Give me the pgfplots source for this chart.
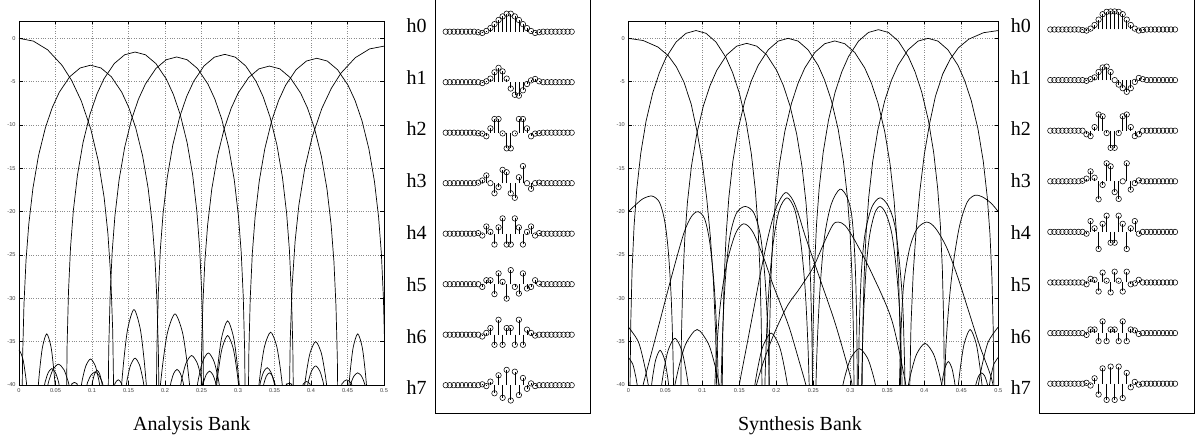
\documentclass[border=0pt]{standalone}
\usepackage{fontspec}
\setmainfont{Liberation Serif}
\newfontfamily\ticksans{Liberation Sans}
\usepackage{pgfplots}
\usepackage{pgfplotstable}
\pgfplotsset{compat=1.18}
\pgfplotstableread{
n v
0 0
1 0
2 0
3 0
4 0
5 0
6 0
7 0
24 0
25 0
26 0
27 0
28 0
29 0
30 0
31 0
}\zerotab
\pgfplotsset{
  resp/.style={scale only axis, height=364bp, xmin=0, xmax=0.5, ymin=-40, ymax=2,
    xtick={0,0.05,0.1,0.15,0.2,0.25,0.3,0.35,0.4,0.45,0.5},
    xticklabels={0,0.05,0.1,0.15,0.2,0.25,0.3,0.35,0.4,0.45,0.5},
    ytick={-40,-35,-30,-25,-20,-15,-10,-5,0},
    yticklabels={-40,-35,-30,-25,-20,-15,-10,-5,0},
    grid=major, grid style={dotted, black!45, line width=0.45pt},
    tick align=inside, major tick length=3.5bp,
    tick style={black, line width=0.5pt},
    axis line style={black, line width=1pt},
    ticklabel style={font=\ticksans\fontsize{5.6bp}{6bp}\selectfont, text=black!75},
    anchor=south west, clip=true},
  stemax/.style={hide axis, scale only axis, height=36bp, xmin=0, xmax=31, ymin=-1, ymax=1, anchor=west, clip=false},
  stemplot/.style={ycomb, black, line width=0.55pt, mark=o, mark size=2.75pt, mark options={solid}},
  stemzero/.style={only marks, black, line width=0.55pt, mark=o, mark size=2.75pt},
  lobe/.style={black, line width=0.7pt, mark=none},
  slobe/.style={lobe, smooth},
}
\newcommand{\stemrow}[4]{\begin{axis}[stemax, at={(#1bp,#2bp)}, width=#3bp]
\addplot[stemplot] coordinates {#4};
\addplot[stemzero] table {\zerotab};
\end{axis}}
\begin{document}
\begin{tikzpicture}
\useasboundingbox (0,0) rectangle (1196bp,439bp);
% ---------------- Analysis ----------------
\begin{axis}[resp, at={(19bp,54bp)}, width=365bp]
\addplot[lobe] coordinates {(0,0) (0.0197,-0.32) (0.0393,-1.33) (0.0590,-3.12) (0.0721,-4.86) (0.0852,-7.20) (0.0983,-10.45) (0.1087,-14.19) (0.1166,-18.34) (0.1218,-22.54) (0.1258,-27.63) (0.1284,-33.81) (0.1301,-43)};
\addplot[lobe] coordinates {(0.0037,-46.1) (0.0049,-36.91) (0.0068,-30.73) (0.0096,-25.64) (0.0134,-21.44) (0.0191,-17.29) (0.0267,-13.55) (0.0362,-10.30) (0.0457,-7.96) (0.0552,-6.22) (0.0695,-4.43) (0.0837,-3.42) (0.098,-3.1) (0.1123,-3.42) (0.1265,-4.43) (0.1408,-6.22) (0.1503,-7.96) (0.1598,-10.30) (0.1693,-13.55) (0.1769,-17.29) (0.1826,-21.44) (0.1864,-25.64) (0.1892,-30.73) (0.1911,-36.91) (0.1923,-46.1)};
\addplot[lobe] coordinates {(0.0647,-44.58) (0.0659,-35.39) (0.0678,-29.21) (0.0706,-24.12) (0.0744,-19.92) (0.0801,-15.77) (0.0877,-12.03) (0.0972,-8.78) (0.1067,-6.44) (0.1162,-4.70) (0.1305,-2.91) (0.1447,-1.90) (0.159,-1.58) (0.1733,-1.90) (0.1875,-2.91) (0.2018,-4.70) (0.2113,-6.44) (0.2208,-8.78) (0.2303,-12.03) (0.2379,-15.77) (0.2436,-19.92) (0.2474,-24.12) (0.2502,-29.21) (0.2521,-35.39) (0.2533,-44.58)};
\addplot[lobe] coordinates {(0.1217,-45.15) (0.1229,-35.96) (0.1248,-29.78) (0.1276,-24.69) (0.1314,-20.49) (0.1371,-16.34) (0.1447,-12.60) (0.1542,-9.35) (0.1637,-7.01) (0.1732,-5.27) (0.1875,-3.48) (0.2017,-2.47) (0.216,-2.15) (0.2303,-2.47) (0.2445,-3.48) (0.2588,-5.27) (0.2683,-7.01) (0.2778,-9.35) (0.2873,-12.60) (0.2949,-16.34) (0.3006,-20.49) (0.3044,-24.69) (0.3072,-29.78) (0.3091,-35.96) (0.3103,-45.15)};
\addplot[lobe] coordinates {(0.1877,-44.85) (0.1889,-35.66) (0.1908,-29.48) (0.1936,-24.39) (0.1974,-20.19) (0.2031,-16.04) (0.2107,-12.30) (0.2202,-9.05) (0.2297,-6.71) (0.2392,-4.97) (0.2535,-3.18) (0.2677,-2.17) (0.282,-1.85) (0.2963,-2.17) (0.3105,-3.18) (0.3248,-4.97) (0.3343,-6.71) (0.3438,-9.05) (0.3533,-12.30) (0.3609,-16.04) (0.3666,-20.19) (0.3704,-24.39) (0.3732,-29.48) (0.3751,-35.66) (0.3763,-44.85)};
\addplot[lobe] coordinates {(0.2487,-46.2) (0.2499,-37.01) (0.2518,-30.83) (0.2546,-25.74) (0.2584,-21.54) (0.2641,-17.39) (0.2717,-13.65) (0.2812,-10.40) (0.2907,-8.06) (0.3002,-6.32) (0.3145,-4.53) (0.3287,-3.52) (0.343,-3.2) (0.3573,-3.52) (0.3715,-4.53) (0.3858,-6.32) (0.3953,-8.06) (0.4048,-10.40) (0.4143,-13.65) (0.4219,-17.39) (0.4276,-21.54) (0.4314,-25.74) (0.4342,-30.83) (0.4361,-37.01) (0.4373,-46.2)};
\addplot[lobe] coordinates {(0.3137,-45.3) (0.3149,-36.11) (0.3168,-29.93) (0.3196,-24.84) (0.3234,-20.64) (0.3291,-16.49) (0.3367,-12.75) (0.3462,-9.50) (0.3557,-7.16) (0.3652,-5.42) (0.3795,-3.63) (0.3937,-2.62) (0.408,-2.3) (0.4223,-2.62) (0.4365,-3.63) (0.4508,-5.42) (0.4603,-7.16) (0.4698,-9.50) (0.4793,-12.75) (0.4869,-16.49) (0.4926,-20.64) (0.4964,-24.84) (0.4992,-29.93) (0.5011,-36.11) (0.5023,-45.3)};
\addplot[lobe] coordinates {(0.3699,-43.9) (0.3716,-34.71) (0.3742,-28.53) (0.3782,-23.44) (0.3834,-19.24) (0.3913,-15.09) (0.4017,-11.35) (0.4148,-8.10) (0.4279,-5.76) (0.4410,-4.02) (0.4607,-2.23) (0.4803,-1.22) (0.5,-0.9)};
% side lobes
\addplot[slobe] coordinates {(-0.0116,-41.5) (-0.0105,-40) (-0.0084,-38.56) (-0.0053,-37.0) (0,-36.0) (0.0053,-37.0) (0.0084,-38.56) (0.0105,-40) (0.0116,-41.5)};
\addplot[slobe] coordinates {(0.0254,-41.5) (0.0265,-40) (0.0288,-37.88) (0.0323,-35.58) (0.038,-34.1) (0.0438,-35.58) (0.0472,-37.88) (0.0495,-40) (0.0507,-41.5)};
\addplot[slobe] coordinates {(0.034,-41.5) (0.035,-40) (0.037,-39.32) (0.04,-38.58) (0.045,-38.1) (0.05,-38.58) (0.053,-39.32) (0.055,-40) (0.056,-41.5)};
\addplot[slobe] coordinates {(0.038,-41.5) (0.0395,-40) (0.0424,-39.14) (0.0467,-38.2) (0.054,-37.6) (0.0613,-38.2) (0.0656,-39.14) (0.0685,-40) (0.07,-41.5)};
\addplot[slobe] coordinates {(0.0716,-41.5) (0.072,-40) (0.0728,-39.89) (0.074,-39.78) (0.076,-39.7) (0.078,-39.78) (0.0792,-39.89) (0.08,-40) (0.0804,-41.5)};
\addplot[slobe] coordinates {(0.0843,-41.5) (0.0855,-40) (0.088,-38.92) (0.0918,-37.75) (0.098,-37.0) (0.1043,-37.75) (0.108,-38.92) (0.1105,-40) (0.1118,-41.5)};
\addplot[slobe] coordinates {(0.0919,-41.5) (0.093,-40) (0.0952,-39.46) (0.0985,-38.88) (0.104,-38.5) (0.1095,-38.88) (0.1128,-39.46) (0.115,-40) (0.1161,-41.5)};
\addplot[slobe] coordinates {(0.0993,-41.5) (0.1,-40) (0.1014,-39.39) (0.1035,-38.73) (0.107,-38.3) (0.1105,-38.73) (0.1126,-39.39) (0.114,-40) (0.1147,-41.5)};
\addplot[slobe] coordinates {(0.1305,-41.5) (0.131,-40) (0.132,-39.78) (0.1335,-39.55) (0.136,-39.4) (0.1385,-39.55) (0.14,-39.78) (0.141,-40) (0.1415,-41.5)};
\addplot[slobe] coordinates {(0.1388,-41.5) (0.1405,-40) (0.1439,-36.87) (0.149,-33.48) (0.1575,-31.3) (0.166,-33.48) (0.1711,-36.87) (0.1745,-40) (0.1762,-41.5)};
\addplot[slobe] coordinates {(0.1458,-41.5) (0.147,-40) (0.1494,-38.88) (0.153,-37.68) (0.159,-36.9) (0.165,-37.68) (0.1686,-38.88) (0.171,-40) (0.1722,-41.5)};
\addplot[slobe] coordinates {(0.1917,-41.5) (0.1937,-40) (0.1977,-37.05) (0.2037,-33.85) (0.2137,-31.8) (0.2237,-33.85) (0.2297,-37.05) (0.2337,-40) (0.2357,-41.5)};
\addplot[slobe] coordinates {(0.2066,-41.5) (0.2075,-40) (0.2093,-39.35) (0.212,-38.65) (0.2165,-38.2) (0.221,-38.65) (0.2237,-39.35) (0.2255,-40) (0.2264,-41.5)};
\addplot[slobe] coordinates {(0.22,-41.5) (0.2215,-40) (0.2245,-38.78) (0.229,-37.45) (0.2365,-36.6) (0.244,-37.45) (0.2485,-38.78) (0.2515,-40) (0.253,-41.5)};
\addplot[slobe] coordinates {(0.2429,-41.5) (0.2444,-40) (0.2474,-38.67) (0.2519,-37.23) (0.2594,-36.3) (0.2669,-37.23) (0.2714,-38.67) (0.2744,-40) (0.2759,-41.5)};
\addplot[slobe] coordinates {(0.2511,-41.5) (0.252,-40) (0.2538,-39.42) (0.2565,-38.8) (0.261,-38.4) (0.2655,-38.8) (0.2682,-39.42) (0.27,-40) (0.2709,-41.5)};
\addplot[slobe] coordinates {(0.2682,-41.5) (0.2698,-40) (0.273,-37.34) (0.2778,-34.45) (0.2858,-32.6) (0.2938,-34.45) (0.2986,-37.34) (0.3018,-40) (0.3034,-41.5)};
\addplot[slobe] coordinates {(0.2693,-41.5) (0.2708,-40) (0.2738,-37.95) (0.2783,-35.73) (0.2858,-34.3) (0.2933,-35.73) (0.2978,-37.95) (0.3008,-40) (0.3023,-41.5)};
\addplot[slobe] coordinates {(0.3271,-41.5) (0.3287,-40) (0.3319,-37.8) (0.3367,-35.43) (0.3447,-33.9) (0.3527,-35.43) (0.3575,-37.8) (0.3607,-40) (0.3623,-41.5)};
\addplot[slobe] coordinates {(0.329,-41.5) (0.33,-40) (0.332,-39.28) (0.335,-38.5) (0.34,-38.0) (0.345,-38.5) (0.348,-39.28) (0.35,-40) (0.351,-41.5)};
\addplot[slobe] coordinates {(0.3342,-41.5) (0.335,-40) (0.3366,-39.5) (0.339,-38.95) (0.343,-38.6) (0.347,-38.95) (0.3494,-39.5) (0.351,-40) (0.3518,-41.5)};
\addplot[slobe] coordinates {(0.3656,-41.5) (0.366,-40) (0.3668,-39.93) (0.368,-39.85) (0.37,-39.8) (0.372,-39.85) (0.3732,-39.93) (0.374,-40) (0.3744,-41.5)};
\addplot[slobe] coordinates {(0.3885,-41.5) (0.389,-40) (0.39,-39.86) (0.3915,-39.7) (0.394,-39.6) (0.3965,-39.7) (0.398,-39.86) (0.399,-40) (0.3995,-41.5)};
\addplot[slobe] coordinates {(0.3899,-41.5) (0.3914,-40) (0.3944,-38.2) (0.3989,-36.25) (0.4064,-35.0) (0.4139,-36.25) (0.4184,-38.2) (0.4214,-40) (0.4229,-41.5)};
\addplot[slobe] coordinates {(0.3943,-41.5) (0.3954,-40) (0.3976,-39.21) (0.4009,-38.35) (0.4064,-37.8) (0.4119,-38.35) (0.4152,-39.21) (0.4174,-40) (0.4185,-41.5)};
\addplot[slobe] coordinates {(0.4413,-41.5) (0.442,-40) (0.4434,-39.78) (0.4455,-39.55) (0.449,-39.4) (0.4525,-39.55) (0.4546,-39.78) (0.456,-40) (0.4567,-41.5)};
\addplot[slobe] coordinates {(0.4508,-41.5) (0.452,-40) (0.4544,-37.88) (0.458,-35.58) (0.464,-34.1) (0.47,-35.58) (0.4736,-37.88) (0.476,-40) (0.4772,-41.5)};
\addplot[slobe] coordinates {(0.453,-41.5) (0.454,-40) (0.456,-39.5) (0.459,-38.95) (0.464,-38.6) (0.469,-38.95) (0.472,-39.5) (0.474,-40) (0.475,-41.5)};
\end{axis}
% ---------------- Synthesis ----------------
\begin{axis}[resp, at={(628.3bp,54bp)}, width=370bp]
\addplot[lobe] coordinates {(0,0) (0.02,-0.25) (0.04,-1.0) (0.054,-2.0) (0.065,-3.3) (0.075,-5.0) (0.085,-7.6) (0.093,-10.8) (0.1,-14.3) (0.106,-18.5) (0.111,-23) (0.115,-28) (0.118,-34) (0.1205,-45)};
\addplot[lobe] coordinates {(0.0021,-42.1) (0.0033,-32.91) (0.0051,-26.73) (0.0078,-21.64) (0.0114,-17.44) (0.0168,-13.29) (0.024,-9.55) (0.033,-6.30) (0.042,-3.96) (0.051,-2.22) (0.0645,-0.43) (0.078,0.58) (0.0915,0.9) (0.105,0.58) (0.1185,-0.43) (0.132,-2.22) (0.141,-3.96) (0.15,-6.30) (0.159,-9.55) (0.1662,-13.29) (0.1716,-17.44) (0.1752,-21.64) (0.1779,-26.73) (0.1797,-32.91) (0.1809,-42.1)};
\addplot[lobe] coordinates {(0.0706,-43.58) (0.0718,-34.39) (0.0736,-28.21) (0.0763,-23.12) (0.0799,-18.92) (0.0853,-14.77) (0.0925,-11.03) (0.1015,-7.78) (0.1105,-5.44) (0.1195,-3.70) (0.133,-1.91) (0.1465,-0.90) (0.160,-0.58) (0.1735,-0.90) (0.187,-1.91) (0.2005,-3.70) (0.2095,-5.44) (0.2185,-7.78) (0.2275,-11.03) (0.2347,-14.77) (0.2401,-18.92) (0.2437,-23.12) (0.2464,-28.21) (0.2482,-34.39) (0.2494,-43.58)};
\addplot[lobe] coordinates {(0.1266,-43) (0.1278,-33.81) (0.1296,-27.63) (0.1323,-22.54) (0.1359,-18.34) (0.1413,-14.19) (0.1485,-10.45) (0.1575,-7.20) (0.1665,-4.86) (0.1755,-3.12) (0.189,-1.33) (0.2025,-0.32) (0.216,0) (0.2295,-0.32) (0.243,-1.33) (0.2565,-3.12) (0.2655,-4.86) (0.2745,-7.20) (0.2835,-10.45) (0.2907,-14.19) (0.2961,-18.34) (0.2997,-22.54) (0.3024,-27.63) (0.3042,-33.81) (0.3054,-43)};
\addplot[lobe] coordinates {(0.1896,-43.3) (0.1908,-34.11) (0.1926,-27.93) (0.1953,-22.84) (0.1989,-18.64) (0.2043,-14.49) (0.2115,-10.75) (0.2205,-7.50) (0.2295,-5.16) (0.2385,-3.42) (0.252,-1.63) (0.2655,-0.62) (0.279,-0.3) (0.2925,-0.62) (0.306,-1.63) (0.3195,-3.42) (0.3285,-5.16) (0.3375,-7.50) (0.3465,-10.75) (0.3537,-14.49) (0.3591,-18.64) (0.3627,-22.84) (0.3654,-27.93) (0.3672,-34.11) (0.3684,-43.3)};
\addplot[lobe] coordinates {(0.2486,-42) (0.2498,-32.81) (0.2516,-26.63) (0.2543,-21.54) (0.2579,-17.34) (0.2633,-13.19) (0.2705,-9.45) (0.2795,-6.20) (0.2885,-3.86) (0.2975,-2.12) (0.311,-0.33) (0.3245,0.68) (0.338,1.0) (0.3515,0.68) (0.365,-0.33) (0.3785,-2.12) (0.3875,-3.86) (0.3965,-6.20) (0.4055,-9.45) (0.4127,-13.19) (0.4181,-17.34) (0.4217,-21.54) (0.4244,-26.63) (0.4262,-32.81) (0.4274,-42)};
\addplot[lobe] coordinates {(0.3156,-43) (0.3168,-33.81) (0.3186,-27.63) (0.3213,-22.54) (0.3249,-18.34) (0.3303,-14.19) (0.3375,-10.45) (0.3465,-7.20) (0.3555,-4.86) (0.3645,-3.12) (0.378,-1.33) (0.3915,-0.32) (0.405,0) (0.4185,-0.32) (0.432,-1.33) (0.4455,-3.12) (0.4545,-4.86) (0.4635,-7.20) (0.4725,-10.45) (0.4797,-14.19) (0.4851,-18.34) (0.4887,-22.54) (0.4914,-27.63) (0.4932,-33.81) (0.4944,-43)};
\addplot[lobe] coordinates {(0.3795,-44.1) (0.382,-33.1) (0.385,-27.1) (0.389,-22.1) (0.394,-17.6) (0.4,-13.4) (0.407,-9.9) (0.415,-6.7) (0.425,-4.1) (0.435,-2.4) (0.446,-1.1) (0.46,-0.1) (0.48,0.65) (0.5,0.9)};
% high side humps
\addplot[slobe] coordinates {(0,-20.0) (0.01,-19.2) (0.02,-18.5) (0.032,-18.2) (0.042,-18.9) (0.049,-21) (0.054,-24.5) (0.058,-30) (0.0605,-37) (0.062,-46)};
\addplot[slobe] coordinates {(0.016,-42) (0.02,-40) (0.04,-33.5) (0.06,-27) (0.075,-22.5) (0.085,-20.6) (0.094,-20.0) (0.103,-20.8) (0.11,-23.5) (0.116,-28.5) (0.12,-35) (0.123,-45)};
\addplot[slobe] coordinates {(0.124,-45) (0.127,-35) (0.131,-28) (0.137,-23) (0.146,-20.2) (0.158,-19.4) (0.17,-20.2) (0.179,-23) (0.185,-28) (0.189,-35) (0.192,-45)};
\addplot[slobe] coordinates {(0.115,-45) (0.118,-38) (0.124,-31) (0.133,-26) (0.145,-22.5) (0.156,-21.4) (0.168,-22.3) (0.182,-25.1) (0.195,-28.3) (0.205,-30.5) (0.218,-33.5) (0.23,-37) (0.24,-40) (0.245,-42)};
\addplot[slobe] coordinates {(0.148,-42) (0.15,-40) (0.16,-35.5) (0.17,-31) (0.18,-26.5) (0.19,-22.5) (0.2,-19.5) (0.212,-17.8) (0.222,-18.6) (0.23,-20.3) (0.239,-22.8) (0.26,-28) (0.28,-33) (0.3,-39) (0.304,-41)};
\addplot[slobe] coordinates {(0.183,-45) (0.186,-36) (0.19,-29) (0.196,-23.5) (0.204,-19.8) (0.2145,-18.4) (0.225,-19.8) (0.233,-23.5) (0.239,-29) (0.243,-36) (0.246,-45)};
\addplot[slobe] coordinates {(0.252,-45) (0.255,-36) (0.259,-29) (0.265,-23) (0.274,-19.2) (0.286,-17.4) (0.296,-18.4) (0.302,-20.5) (0.306,-25) (0.3085,-32) (0.31,-45)};
\addplot[slobe] coordinates {(0.17,-41) (0.18,-38) (0.195,-34.5) (0.214,-31) (0.232,-28.8) (0.25,-26.4) (0.265,-23.5) (0.2766,-21.5) (0.2838,-21.2) (0.293,-21.6) (0.306,-23.3) (0.329,-27.1) (0.356,-32.5) (0.374,-39.5) (0.378,-42)};
\addplot[slobe] coordinates {(0.310,-45) (0.312,-34) (0.315,-27) (0.32,-22.5) (0.329,-19.5) (0.3401,-18.4) (0.351,-19.3) (0.36,-21.5) (0.366,-25.5) (0.371,-31) (0.374,-40) (0.375,-46)};
\addplot[slobe] coordinates {(0.314,-45) (0.317,-34) (0.321,-27) (0.326,-22.8) (0.333,-20.2) (0.3401,-19.4) (0.348,-20.2) (0.356,-22.5) (0.362,-26.5) (0.367,-32) (0.37,-40) (0.371,-46)};
\addplot[slobe] coordinates {(0.365,-45) (0.368,-35) (0.372,-28.5) (0.38,-24.3) (0.39,-22) (0.4032,-21.2) (0.415,-21.9) (0.43,-24.1) (0.445,-27.5) (0.46,-31.5) (0.475,-35.5) (0.49,-39) (0.495,-41)};
\addplot[slobe] coordinates {(0.426,-45) (0.429,-36) (0.434,-30) (0.440,-25.5) (0.448,-21.5) (0.458,-18.9) (0.4685,-18.1) (0.4785,-18.3) (0.49,-19.0) (0.5,-20.0)};
% low side lobes
\addplot[slobe] coordinates {(0,-33.3) (0.0135,-35.0) (0.0216,-37.6) (0.027,-40) (0.0297,-41.5)};
\addplot[slobe] coordinates {(0,-36.8) (0.006,-37.6) (0.0096,-38.85) (0.012,-40) (0.0132,-41.5)};
\addplot[slobe] coordinates {(0.0304,-41.5) (0.0315,-40) (0.0338,-38.56) (0.0373,-37.0) (0.043,-36.0) (0.0488,-37.0) (0.0522,-38.56) (0.0545,-40) (0.0557,-41.5)};
\addplot[slobe] coordinates {(0.0432,-41.5) (0.045,-40) (0.0486,-38.06) (0.054,-35.95) (0.063,-34.6) (0.072,-35.95) (0.0774,-38.06) (0.081,-40) (0.0828,-41.5)};
\addplot[slobe] coordinates {(0.06,-41.5) (0.063,-40) (0.069,-37.7) (0.078,-35.2) (0.093,-33.6) (0.108,-35.2) (0.117,-37.7) (0.123,-40) (0.126,-41.5)};
\addplot[slobe] coordinates {(0.1688,-41.5) (0.171,-40) (0.1754,-37.84) (0.182,-35.5) (0.193,-34.0) (0.204,-35.5) (0.2106,-37.84) (0.215,-40) (0.2172,-41.5)};
\addplot[slobe] coordinates {(0.2878,-41.5) (0.29,-40) (0.2944,-38.49) (0.301,-36.85) (0.312,-35.8) (0.323,-36.85) (0.3296,-38.49) (0.334,-40) (0.3362,-41.5)};
\addplot[slobe] coordinates {(0.3763,-41.5) (0.3785,-40) (0.383,-38.27) (0.3898,-36.4) (0.401,-35.2) (0.4123,-36.4) (0.419,-38.27) (0.4235,-40) (0.4258,-41.5)};
\addplot[slobe] coordinates {(0.4226,-41.5) (0.4235,-40) (0.4253,-39.03) (0.428,-37.98) (0.4325,-37.3) (0.437,-37.98) (0.4397,-39.03) (0.4415,-40) (0.4424,-41.5)};
\addplot[slobe] coordinates {(0.4444,-41.5) (0.446,-40) (0.4492,-37.7) (0.454,-35.2) (0.462,-33.6) (0.47,-35.2) (0.4748,-37.7) (0.478,-40) (0.4796,-41.5)};
\addplot[slobe] coordinates {(0.4703,-41.5) (0.473,-40) (0.4784,-37.6) (0.4865,-35.0) (0.5,-33.3)};
\addplot[slobe] coordinates {(0.4868,-41.5) (0.488,-40) (0.4904,-38.85) (0.494,-37.6) (0.5,-36.8)};
\addplot[slobe] coordinates {(0.4687,-41.5) (0.4695,-40) (0.4711,-39.5) (0.4735,-38.95) (0.4775,-38.6) (0.4815,-38.95) (0.4839,-39.5) (0.4855,-40) (0.4863,-41.5)};
\end{axis}
% ---------------- stem boxes ----------------
\draw[line width=0.8bp] (435bp,445bp) -- (435bp,26bp) -- (590bp,26bp) -- (590bp,445bp);
\draw[line width=0.8bp] (1039bp,445bp) -- (1039bp,26bp) -- (1194bp,26bp) -- (1194bp,445bp);
\stemrow{445.7}{407.3}{126}{(8,-0.03) (9,-0.07) (10,0.04) (11,0.2) (12,0.42) (13,0.65) (14,0.85) (15,1.0) (16,1.0) (17,0.85) (18,0.65) (19,0.42) (20,0.2) (21,0.04) (22,-0.07) (23,-0.03)}
\stemrow{445.7}{356.8}{126}{(8,0) (9,-0.05) (10,0.05) (11,0.2) (12,0.55) (13,0.8) (14,0.6) (15,0.2) (16,-0.35) (17,-0.7) (18,-0.75) (19,-0.45) (20,-0.1) (21,0.1) (22,0.18) (23,0.05)}
\stemrow{445.7}{306.3}{126}{(8,-0.03) (9,-0.05) (10,-0.2) (11,0.24) (12,0.76) (13,0.76) (14,-0.04) (15,-0.87) (16,-0.87) (17,-0.04) (18,0.76) (19,0.76) (20,0.24) (21,-0.2) (22,-0.05) (23,-0.03)}
\stemrow{445.7}{255.8}{126}{(8,0.03) (9,0.15) (10,0.43) (11,0.0) (12,-0.56) (13,-0.22) (14,0.74) (15,0.61) (16,-0.56) (17,-0.81) (18,0.33) (19,0.95) (20,0.0) (21,-0.31) (22,0.0) (23,0.03)}
\stemrow{445.7}{205.3}{126}{(8,0.03) (9,-0.1) (10,0.4) (11,0.1) (12,-0.6) (13,0.35) (14,0.85) (15,-0.6) (16,-0.6) (17,0.85) (18,0.35) (19,-0.6) (20,0.1) (21,0.4) (22,-0.1) (23,0.03)}
\stemrow{445.7}{154.8}{126}{(8,0) (9,-0.15) (10,0.22) (11,0.22) (12,-0.55) (13,0.6) (14,0.13) (15,-0.8) (16,0.78) (17,-0.15) (18,-0.52) (19,0.6) (20,-0.24) (21,-0.15) (22,0.22) (23,0.03)}
\stemrow{445.7}{104.3}{126}{(8,0) (9,-0.1) (10,0.1) (11,0.37) (12,-0.56) (13,0.83) (14,-0.56) (15,0.37) (16,0.37) (17,-0.56) (18,0.83) (19,-0.56) (20,0.28) (21,0.1) (22,-0.05) (23,0)}
\stemrow{445.7}{53.8}{126}{(8,0) (9,0.05) (10,-0.05) (11,0.2) (12,-0.45) (13,0.55) (14,-0.7) (15,0.85) (16,-0.85) (17,0.75) (18,-0.55) (19,0.4) (20,-0.2) (21,0.1) (22,-0.05) (23,0)}
\stemrow{1050.3}{409.5}{124.7}{(8,-0.03) (9,-0.06) (10,0.05) (11,0.25) (12,0.55) (13,0.85) (14,0.98) (15,1.0) (16,1.0) (17,0.98) (18,0.85) (19,0.55) (20,0.25) (21,0.05) (22,-0.06) (23,-0.03)}
\stemrow{1050.3}{358.9}{124.7}{(8,0) (9,-0.04) (10,0.05) (11,0.15) (12,0.45) (13,0.7) (14,0.75) (15,0.45) (16,0.0) (17,-0.25) (18,-0.45) (19,-0.65) (20,-0.45) (21,-0.1) (22,0.12) (23,0.05)}
\stemrow{1050.3}{308.3}{124.7}{(8,0) (9,-0.2) (10,-0.3) (11,0.2) (12,0.9) (13,0.8) (14,-0.13) (15,-0.95) (16,-0.95) (17,-0.13) (18,0.8) (19,0.9) (20,0.2) (21,-0.3) (22,-0.2) (23,0)}
\stemrow{1050.3}{257.7}{124.7}{(8,0.03) (9,0.15) (10,0.55) (11,0.2) (12,-1.0) (13,-0.2) (14,1.0) (15,0.83) (16,-0.6) (17,-0.98) (18,0.0) (19,1.0) (20,-0.46) (21,-0.1) (22,0.05) (23,0)}
\stemrow{1050.3}{207.1}{124.7}{(8,0) (9,-0.1) (10,0.6) (11,0.2) (12,-0.95) (13,0.45) (14,0.9) (15,-0.6) (16,-0.6) (17,0.9) (18,0.45) (19,-0.95) (20,0.2) (21,0.6) (22,-0.1) (23,0)}
\stemrow{1050.3}{156.5}{124.7}{(8,0) (9,-0.1) (10,0.2) (11,0.15) (12,-0.5) (13,0.55) (14,0.1) (15,-0.55) (16,0.6) (17,0.1) (18,-0.5) (19,0.6) (20,-0.1) (21,-0.05) (22,0.15) (23,0)}
\stemrow{1050.3}{105.9}{124.7}{(8,0) (9,-0.1) (10,0.2) (11,0.2) (12,-0.45) (13,0.65) (14,-0.45) (15,0.2) (16,0.2) (17,-0.45) (18,0.65) (19,-0.45) (20,0.2) (21,0.15) (22,-0.05) (23,0)}
\stemrow{1050.3}{55.3}{124.7}{(8,0) (9,0.05) (10,-0.1) (11,0.3) (12,-0.6) (13,0.85) (14,-0.9) (15,0.95) (16,-0.9) (17,0.95) (18,-0.8) (19,0.6) (20,-0.2) (21,0.1) (22,-0.05) (23,0)}
% ---------------- labels ----------------
\foreach \k/\yy in {0/406.7bp,1/354.9bp,2/303.1bp,3/251.3bp,4/199.5bp,5/147.7bp,6/95.9bp,7/44.1bp}{
  \node[anchor=base, inner sep=0pt, font=\fontsize{20bp}{24bp}\selectfont] at (416.7bp,\yy) {h\k};
  \node[anchor=base, inner sep=0pt, font=\fontsize{20bp}{24bp}\selectfont] at (1020.8bp,\yy) {h\k};
}
\node[anchor=base, inner sep=0pt, font=\fontsize{20bp}{24bp}\selectfont] at (191.7bp,9bp) {Analysis Bank};
\node[anchor=base, inner sep=0pt, font=\fontsize{20bp}{24bp}\selectfont] at (800bp,9bp) {Synthesis Bank};
\end{tikzpicture}
\end{document}
